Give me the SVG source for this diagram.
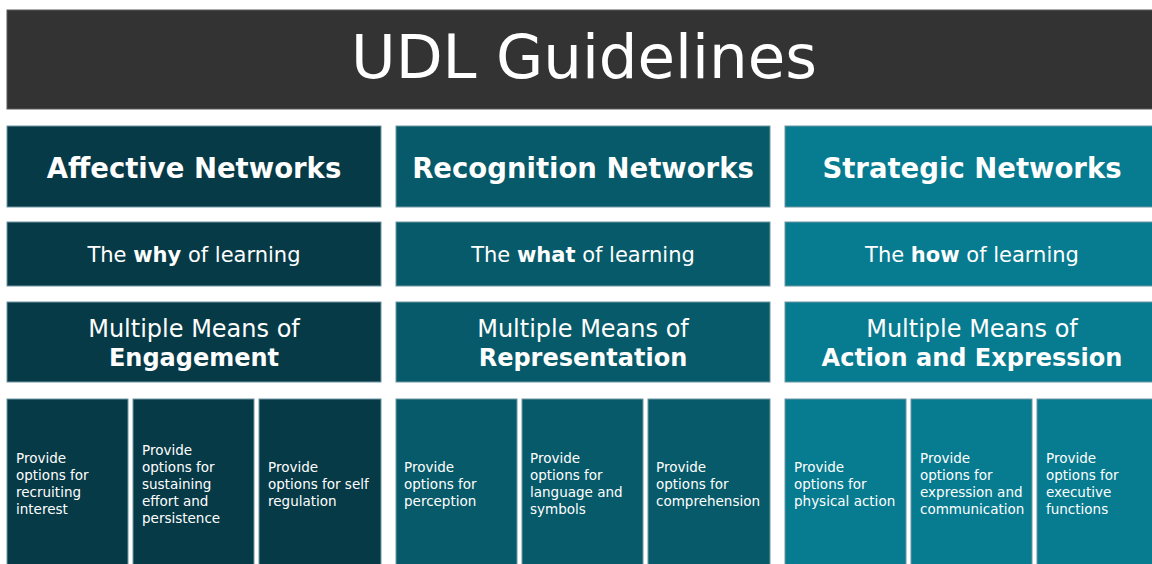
<svg xmlns="http://www.w3.org/2000/svg" width="1152" height="564" viewBox="0 0 1152 564">
<style>
text{font-family:"DejaVu Sans","Verdana",sans-serif;fill:#ffffff}
.c1{fill:#073a47}
.c2{fill:#075a69}
.c3{fill:#077b90}
.box{stroke:#6e98a3;stroke-width:1}
.hd{font-size:27.5px;font-weight:bold;text-anchor:middle}
.sub{font-size:21px;text-anchor:middle}
.mm{font-size:24px;text-anchor:middle}
.sm{font-size:13.5px}
.b{font-weight:bold}
</style>
<rect width="1152" height="564" fill="#ffffff"/>
<g id="title">
<rect x="7" y="10" width="1153" height="99" fill="#333333" stroke="#5a5a5a" stroke-width="1"/>
<text x="584" y="78" font-size="61" text-anchor="middle">UDL Guidelines</text>
</g>
<g id="col-affective">
<g id="affective-header"><rect class="c1 box" x="7" y="126" width="374" height="81"/><text class="hd" x="194" y="178">Affective Networks</text></g>
<g id="affective-why"><rect class="c1 box" x="7" y="222" width="374" height="64"/><text class="sub" x="194" y="262">The <tspan class="b">why</tspan> of learning</text></g>
<g id="affective-means"><rect class="c1 box" x="7" y="302" width="374" height="80"/><text class="mm" x="194" y="337">Multiple Means of</text><text class="mm b" x="194" y="366">Engagement</text></g>
<g id="recruiting"><rect class="c1 box" x="7" y="399" width="121" height="175"/><text class="sm" x="16" y="463"><tspan x="16">Provide</tspan><tspan x="16" dy="17">options for</tspan><tspan x="16" dy="17">recruiting</tspan><tspan x="16" dy="17">interest</tspan></text></g>
<g id="sustaining"><rect class="c1 box" x="133" y="399" width="121" height="175"/><text class="sm" x="142" y="455"><tspan x="142">Provide</tspan><tspan x="142" dy="17">options for</tspan><tspan x="142" dy="17">sustaining</tspan><tspan x="142" dy="17">effort and</tspan><tspan x="142" dy="17">persistence</tspan></text></g>
<g id="self-regulation"><rect class="c1 box" x="259" y="399" width="122" height="175"/><text class="sm" x="268" y="472"><tspan x="268">Provide</tspan><tspan x="268" dy="17">options for self</tspan><tspan x="268" dy="17">regulation</tspan></text></g>
</g>
<g id="col-recognition">
<g id="recognition-header"><rect class="c2 box" x="396" y="126" width="374" height="81"/><text class="hd" x="583" y="178">Recognition Networks</text></g>
<g id="recognition-what"><rect class="c2 box" x="396" y="222" width="374" height="64"/><text class="sub" x="583" y="262">The <tspan class="b">what</tspan> of learning</text></g>
<g id="recognition-means"><rect class="c2 box" x="396" y="302" width="374" height="80"/><text class="mm" x="583" y="337">Multiple Means of</text><text class="mm b" x="583" y="366">Representation</text></g>
<g id="perception"><rect class="c2 box" x="396" y="399" width="121" height="175"/><text class="sm" x="404" y="472"><tspan x="404">Provide</tspan><tspan x="404" dy="17">options for</tspan><tspan x="404" dy="17">perception</tspan></text></g>
<g id="language"><rect class="c2 box" x="522" y="399" width="121" height="175"/><text class="sm" x="530" y="463"><tspan x="530">Provide</tspan><tspan x="530" dy="17">options for</tspan><tspan x="530" dy="17">language and</tspan><tspan x="530" dy="17">symbols</tspan></text></g>
<g id="comprehension"><rect class="c2 box" x="648" y="399" width="122" height="175"/><text class="sm" x="656" y="472"><tspan x="656">Provide</tspan><tspan x="656" dy="17">options for</tspan><tspan x="656" dy="17">comprehension</tspan></text></g>
</g>
<g id="col-strategic">
<g id="strategic-header"><rect class="c3 box" x="785" y="126" width="375" height="81"/><text class="hd" x="972" y="178">Strategic Networks</text></g>
<g id="strategic-how"><rect class="c3 box" x="785" y="222" width="375" height="64"/><text class="sub" x="972" y="262">The <tspan class="b">how</tspan> of learning</text></g>
<g id="strategic-means"><rect class="c3 box" x="785" y="302" width="375" height="80"/><text class="mm" x="972" y="337">Multiple Means of</text><text class="mm b" x="972" y="366">Action and Expression</text></g>
<g id="physical"><rect class="c3 box" x="785" y="399" width="121" height="175"/><text class="sm" x="794" y="472"><tspan x="794">Provide</tspan><tspan x="794" dy="17">options for</tspan><tspan x="794" dy="17">physical action</tspan></text></g>
<g id="expression"><rect class="c3 box" x="911" y="399" width="121" height="175"/><text class="sm" x="920" y="463"><tspan x="920">Provide</tspan><tspan x="920" dy="17">options for</tspan><tspan x="920" dy="17">expression and</tspan><tspan x="920" dy="17">communication</tspan></text></g>
<g id="executive"><rect class="c3 box" x="1037" y="399" width="123" height="175"/><text class="sm" x="1046" y="463"><tspan x="1046">Provide</tspan><tspan x="1046" dy="17">options for</tspan><tspan x="1046" dy="17">executive</tspan><tspan x="1046" dy="17">functions</tspan></text></g>
</g>
<g id="connectors"/>
</svg>
